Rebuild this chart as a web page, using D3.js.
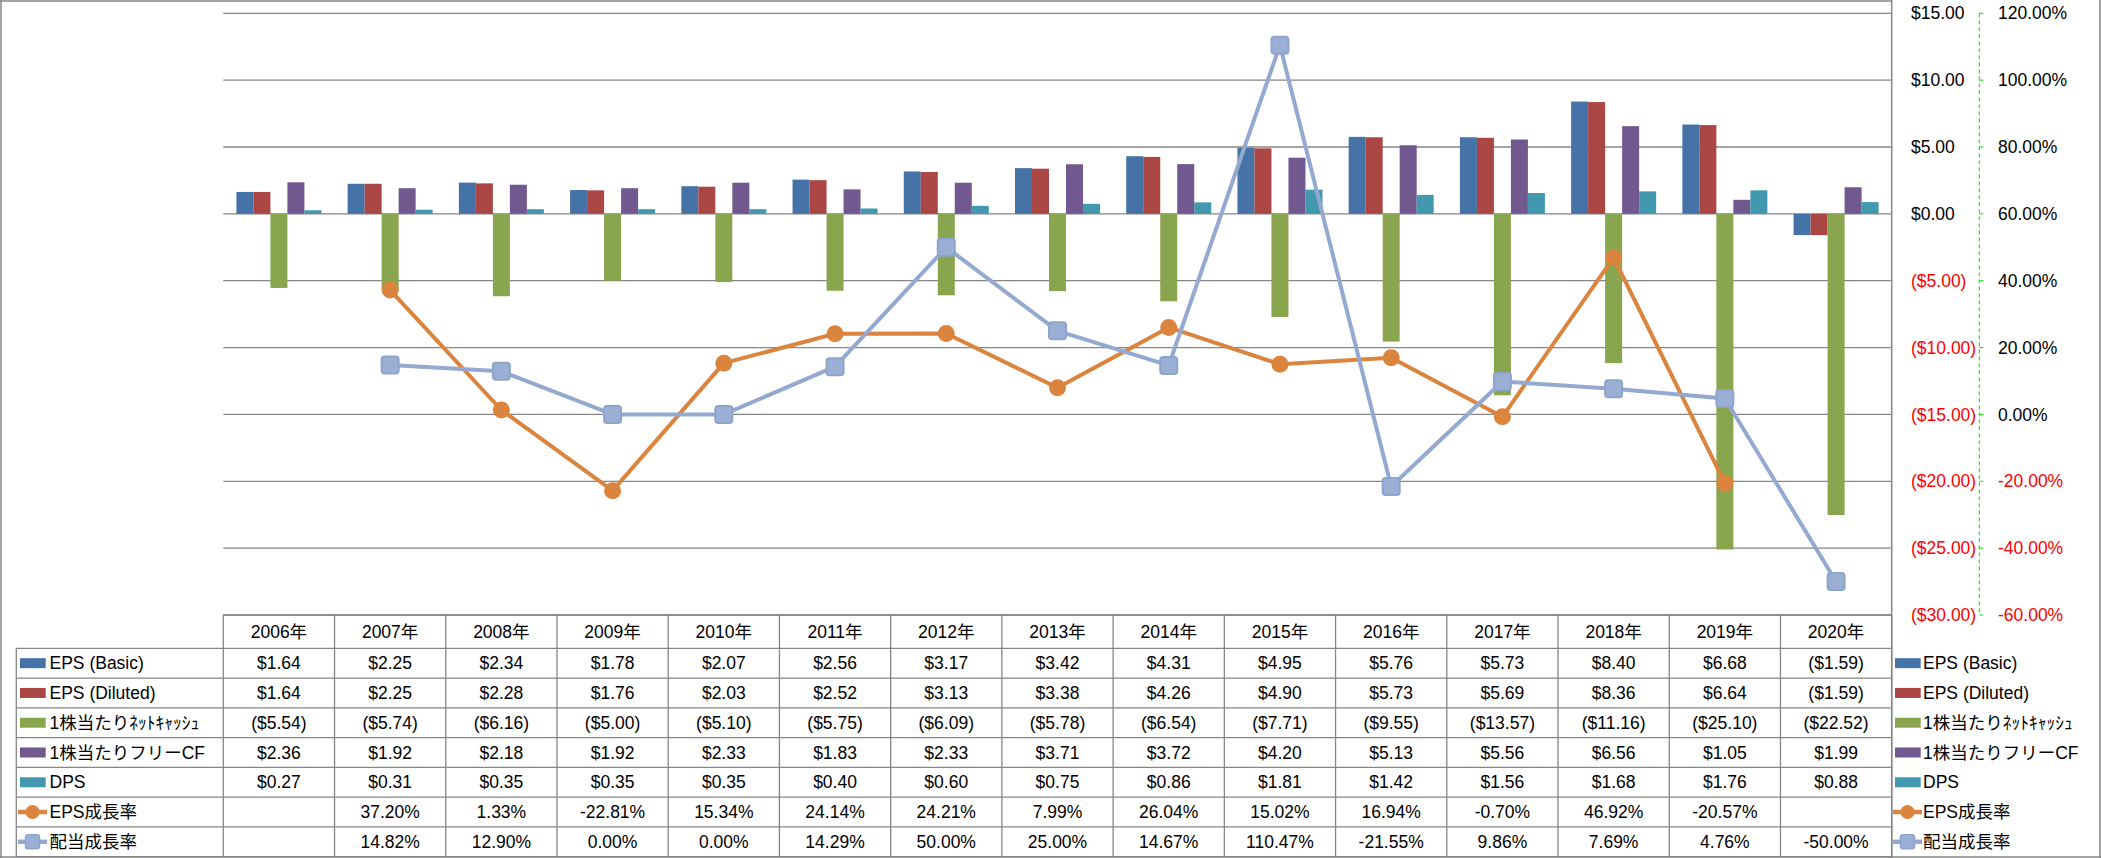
<!DOCTYPE html>
<html><head><meta charset="utf-8">
<script src="https://cdn.jsdelivr.net/npm/d3@7"></script>
<style>
html,body{margin:0;padding:0;background:#fff;}
svg{display:block;}
text{font-family:"Liberation Sans","Noto Sans CJK JP",sans-serif;}
</style></head>
<body><svg id="chart" width="2101" height="858"></svg>
<script>
const years = ["2006年","2007年","2008年","2009年","2010年","2011年","2012年","2013年","2014年","2015年","2016年","2017年","2018年","2019年","2020年"];
const epsBasic   = [1.64,2.25,2.34,1.78,2.07,2.56,3.17,3.42,4.31,4.95,5.76,5.73,8.40,6.68,-1.59];
const epsDiluted = [1.64,2.25,2.28,1.76,2.03,2.52,3.13,3.38,4.26,4.90,5.73,5.69,8.36,6.64,-1.59];
const netCash    = [-5.54,-5.74,-6.16,-5.00,-5.10,-5.75,-6.09,-5.78,-6.54,-7.71,-9.55,-13.57,-11.16,-25.10,-22.52];
const freeCF     = [2.36,1.92,2.18,1.92,2.33,1.83,2.33,3.71,3.72,4.20,5.13,5.56,6.56,1.05,1.99];
const dps        = [0.27,0.31,0.35,0.35,0.35,0.40,0.60,0.75,0.86,1.81,1.42,1.56,1.68,1.76,0.88];
const epsGrowth  = [null,37.20,1.33,-22.81,15.34,24.14,24.21,7.99,26.04,15.02,16.94,-0.70,46.92,-20.57,null];
const divGrowth  = [null,14.82,12.90,0.00,0.00,14.29,50.00,25.00,14.67,110.47,-21.55,9.86,7.69,4.76,-50.00];
const barNames   = ["EPS (Basic)","EPS (Diluted)","1株当たりﾈｯﾄｷｬｯｼｭ","1株当たりフリーCF","DPS"];
const lineNames  = ["EPS成長率","配当成長率"];
const leftTicks  = [-30,-25,-20,-15,-10,-5,0,5,10,15];
const rightTicks = [-60,-40,-20,0,20,40,60,80,100,120];

const barSeries = [epsBasic, epsDiluted, netCash, freeCF, dps];
const barColors = ["#4572A7","#AA4643","#89A54E","#71588F","#4198AF"];
const lineSeries = [epsGrowth, divGrowth];
const lineColors = ["#DB843D","#93A9CF"];

const svg = d3.select("#chart");
const W = 2101, H = 858;
const L = 223.3, R = 1891.7, T = 13.3, B = 615;
const gridColor = "#868686";
const FS = 17.5;

svg.append("rect").attr("width",W).attr("height",H).attr("fill","#fff");

const x = d3.scaleBand().domain(years).range([L,R]).padding(0);
const bw = x.bandwidth();
const x1 = d3.scaleBand().domain(d3.range(5)).range([(bw-85)/2,(bw+85)/2]).padding(0);
const y = d3.scaleLinear().domain([-30,15]).range([B,T]);
const y2 = d3.scaleLinear().domain([-60,120]).range([B,T]);

// gridlines
svg.append("g").selectAll("line").data(leftTicks).join("line")
  .attr("x1",L).attr("x2",R).attr("y1",d=>y(d)).attr("y2",d=>y(d))
  .attr("stroke",gridColor).attr("stroke-width",1.3);

// borders
const bd = svg.append("g").attr("stroke",gridColor).attr("stroke-width",1.5).attr("fill","none");
bd.append("line").attr("x1",0).attr("x2",R).attr("y1",1).attr("y2",1);
bd.append("line").attr("x1",1).attr("x2",1).attr("y1",0).attr("y2",H);
bd.append("line").attr("x1",0).attr("x2",W).attr("y1",857).attr("y2",857);
bd.append("line").attr("x1",2100).attr("x2",2100).attr("y1",0).attr("y2",H);
bd.append("line").attr("x1",R).attr("x2",R).attr("y1",0).attr("y2",H);

// bars
barSeries.forEach((s,i)=>{
  svg.append("g").selectAll("rect").data(s).join("rect")
    .attr("x",(d,j)=>x(years[j])+x1(i))
    .attr("width",x1.bandwidth())
    .attr("y",d=>y(Math.max(0,d)))
    .attr("height",d=>Math.abs(y(d)-y(0)))
    .attr("fill",barColors[i]);
});

// lines
const cx = j => x(years[j]) + bw/2;
lineSeries.forEach((s,i)=>{
  const ln = d3.line().defined(d=>d!==null).x((d,j)=>cx(j)).y(d=>y2(d));
  svg.append("path").datum(s).attr("d",ln).attr("fill","none")
    .attr("stroke",lineColors[i]).attr("stroke-width",4).attr("stroke-linejoin","round");
});
// markers
svg.append("g").selectAll("circle").data(epsGrowth.map((d,j)=>({d,j})).filter(o=>o.d!==null)).join("circle")
  .attr("cx",o=>cx(o.j)).attr("cy",o=>y2(o.d)).attr("r",8.5).attr("fill","#DB843D");
svg.append("g").selectAll("rect").data(divGrowth.map((d,j)=>({d,j})).filter(o=>o.d!==null)).join("rect")
  .attr("x",o=>cx(o.j)-8.5).attr("y",o=>y2(o.d)-8.5).attr("width",17).attr("height",17).attr("rx",3)
  .attr("fill","#9AAFD3").attr("stroke","#8EA5CB").attr("stroke-width",2);

// primary axis labels (right side)
const fmtD = v => (v<0?"($"+Math.abs(v).toFixed(2)+")":"$"+v.toFixed(2));
svg.append("g").selectAll("text").data(leftTicks).join("text")
  .attr("x",1911).attr("y",d=>y(d)).attr("dy","0.35em")
  .attr("font-size",FS).attr("fill",d=>d<0?"#FF0000":"#000").text(fmtD);

// secondary axis
const AX = 1979.3;
svg.append("line").attr("x1",AX).attr("x2",AX).attr("y1",T).attr("y2",B)
  .attr("stroke","#00E000").attr("stroke-width",1).attr("stroke-dasharray","4,3");
svg.append("g").selectAll("line").data(rightTicks).join("line")
  .attr("x1",AX).attr("x2",AX+4).attr("y1",d=>y2(d)).attr("y2",d=>y2(d))
  .attr("stroke","#00E000").attr("stroke-width",1);
svg.append("g").selectAll("text").data(rightTicks).join("text")
  .attr("x",1998).attr("y",d=>y2(d)).attr("dy","0.35em")
  .attr("font-size",FS).attr("fill",d=>d<0?"#FF0000":"#000").text(d=>d.toFixed(2)+"%");

// data table
const RT = 615, RH0 = 648.3, rh = (856.7-648.3)/7, TL = 16.3;
const tg = svg.append("g").attr("stroke",gridColor).attr("stroke-width",1.3);
tg.append("line").attr("x1",L).attr("x2",R).attr("y1",RT).attr("y2",RT);
d3.range(8).forEach(k=>{
  tg.append("line").attr("x1",TL).attr("x2",R).attr("y1",RH0+k*rh).attr("y2",RH0+k*rh);
});
tg.append("line").attr("x1",TL).attr("x2",TL).attr("y1",RH0).attr("y2",857);
d3.range(16).forEach(i=>{
  const xx = L + i*bw;
  tg.append("line").attr("x1",xx).attr("x2",xx).attr("y1",RT).attr("y2",857);
});
// header
svg.append("g").selectAll("text").data(years).join("text")
  .attr("x",d=>x(d)+bw/2).attr("y",(RT+RH0)/2).attr("dy","0.35em").attr("text-anchor","middle")
  .attr("font-size",FS).text(d=>d);
// values
const fmtP = v => v===null?"":v.toFixed(2)+"%";
const rows = barSeries.map(s=>s.map(fmtD)).concat(lineSeries.map(s=>s.map(fmtP)));
rows.forEach((r,k)=>{
  svg.append("g").selectAll("text").data(r).join("text")
    .attr("x",(d,j)=>x(years[j])+bw/2).attr("y",RH0+(k+0.5)*rh).attr("dy","0.35em")
    .attr("text-anchor","middle").attr("font-size",FS).text(d=>d);
});

// legend keys (in table and right legend)
const names = barNames.concat(lineNames);
function legend(x0, tx){
  names.forEach((n,k)=>{
    const cy = RH0+(k+0.5)*rh;
    if(k<5){
      svg.append("rect").attr("x",x0+2).attr("y",cy-5).attr("width",25.7).attr("height",10).attr("fill",barColors[k]);
    } else {
      const c = lineColors[k-5];
      svg.append("line").attr("x1",x0).attr("x2",x0+29).attr("y1",cy).attr("y2",cy).attr("stroke",c).attr("stroke-width",4.5);
      if(k===5) svg.append("circle").attr("cx",x0+14.5).attr("cy",cy).attr("r",7).attr("fill",c);
      else svg.append("rect").attr("x",x0+7.5).attr("y",cy-7).attr("width",14).attr("height",14).attr("rx",2.5).attr("fill","#9AAFD3").attr("stroke","#8EA5CB").attr("stroke-width",1.5);
    }
    svg.append("text").attr("x",tx).attr("y",cy).attr("dy","0.35em").attr("font-size",FS).text(n);
  });
}
legend(18, 49.5);
legend(1893, 1923);
</script></body></html>
